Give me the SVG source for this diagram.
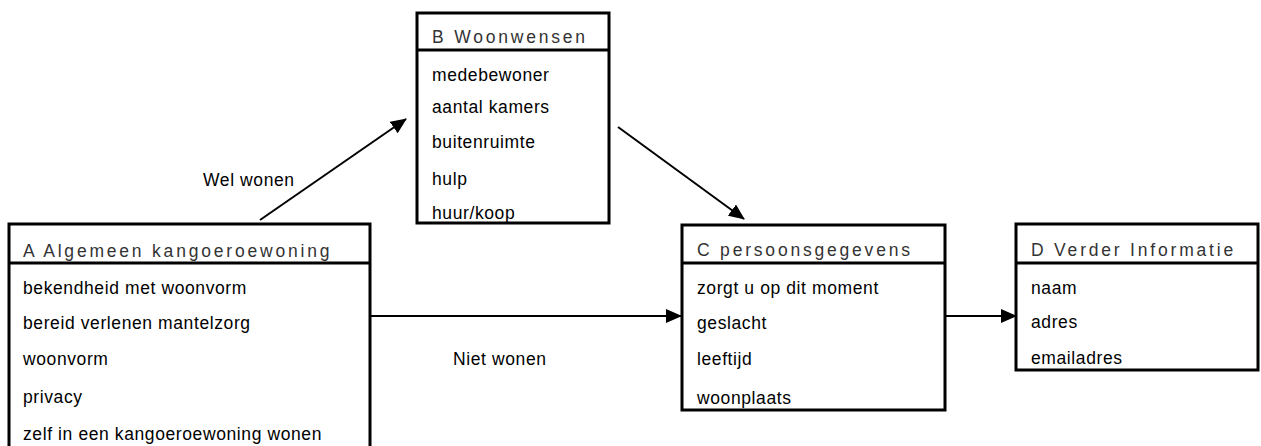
<svg xmlns="http://www.w3.org/2000/svg" width="1261" height="446" viewBox="0 0 1261 446">
<style>
.box{fill:#fff;stroke:#000;stroke-width:3}
.sep{stroke:#000;stroke-width:3}
.title{font-family:"Liberation Sans",Arial,sans-serif;font-size:17.5px;letter-spacing:2.8px;fill:#333}
.item{font-family:"Liberation Sans",Arial,sans-serif;font-size:17.5px;letter-spacing:0.6px;fill:#000}
.lbl{font-family:"Liberation Sans",Arial,sans-serif;font-size:17.5px;letter-spacing:0.6px;fill:#000}
.conn{stroke:#000;stroke-width:2;fill:none;marker-end:url(#ah)}
</style>
<defs>
<marker id="ah" markerWidth="16" markerHeight="14" refX="15" refY="7" orient="auto" markerUnits="userSpaceOnUse">
<path d="M0,0 L16,7 L0,14 z" fill="#000"/>
</marker>
</defs>
<rect width="1261" height="446" fill="#fff"/>
<g id="connectors">
<line class="conn" x1="260" y1="220" x2="406" y2="119"/>
<line class="conn" x1="618" y1="127" x2="744" y2="219"/>
<line class="conn" x1="370" y1="316" x2="681" y2="316"/>
<line class="conn" x1="945" y1="316" x2="1016" y2="316"/>
<text class="lbl" x="203" y="186">Wel wonen</text>
<text class="lbl" x="453" y="365">Niet wonen</text>
</g>
<g id="nodeA">
<rect class="box" x="9" y="224" width="361" height="240"/>
<line class="sep" x1="9" y1="263" x2="370" y2="263"/>
<text class="title" x="23" y="257">A Algemeen kangoeroewoning</text>
<text class="item" x="23" y="294">bekendheid met woonvorm</text>
<text class="item" x="23" y="329">bereid verlenen mantelzorg</text>
<text class="item" x="23" y="365">woonvorm</text>
<text class="item" x="23" y="403">privacy</text>
<text class="item" x="23" y="440">zelf in een kangoeroewoning wonen</text>
</g>
<g id="nodeB">
<rect class="box" x="417" y="13" width="192" height="210"/>
<line class="sep" x1="417" y1="50" x2="609" y2="50"/>
<text class="title" x="432" y="43">B Woonwensen</text>
<text class="item" x="432" y="81">medebewoner</text>
<text class="item" x="432" y="113">aantal kamers</text>
<text class="item" x="432" y="148">buitenruimte</text>
<text class="item" x="432" y="185">hulp</text>
<text class="item" x="432" y="219">huur/koop</text>
</g>
<g id="nodeC">
<rect class="box" x="682" y="225" width="263" height="185"/>
<line class="sep" x1="682" y1="263" x2="945" y2="263"/>
<text class="title" x="697" y="256">C persoonsgegevens</text>
<text class="item" x="697" y="294">zorgt u op dit moment</text>
<text class="item" x="697" y="329">geslacht</text>
<text class="item" x="697" y="365">leeftijd</text>
<text class="item" x="697" y="404">woonplaats</text>
</g>
<g id="nodeD">
<rect class="box" x="1016" y="224" width="242" height="146"/>
<line class="sep" x1="1016" y1="263" x2="1258" y2="263"/>
<text class="title" x="1031" y="256">D Verder Informatie</text>
<text class="item" x="1031" y="294">naam</text>
<text class="item" x="1031" y="328">adres</text>
<text class="item" x="1031" y="364">emailadres</text>
</g>
</svg>
